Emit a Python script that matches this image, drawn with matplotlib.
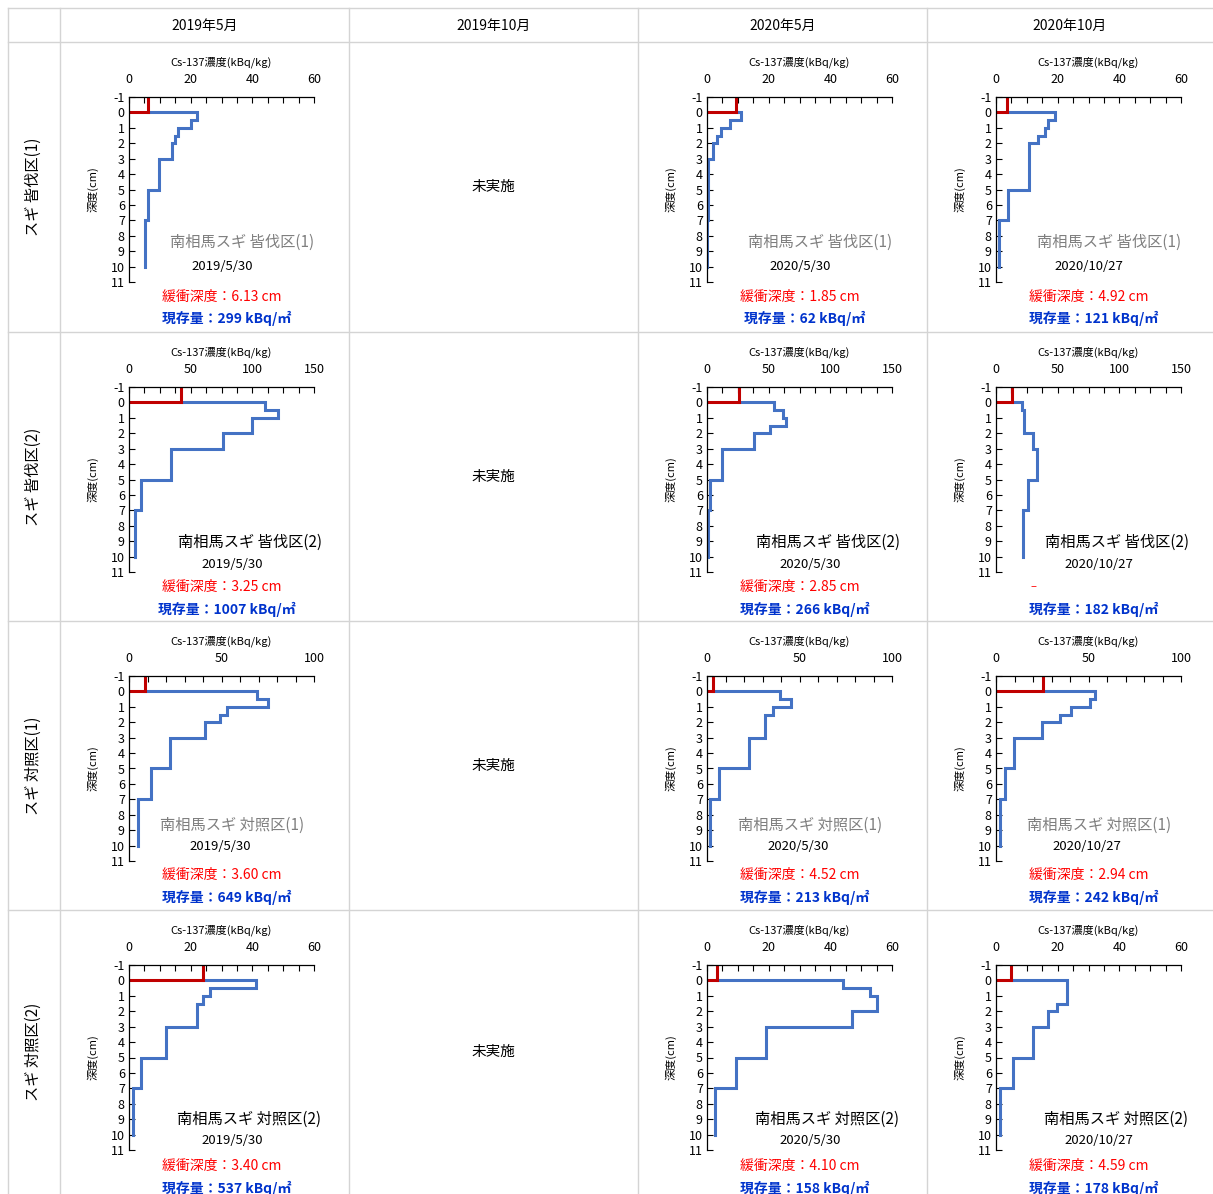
import matplotlib
matplotlib.use("Agg")
import matplotlib.pyplot as plt
from matplotlib.lines import Line2D
from matplotlib.ticker import MultipleLocator

plt.rcParams["font.family"] = ["Noto Sans CJK JP", "DejaVu Sans"]
plt.rcParams["axes.unicode_minus"] = False

# Table headings
periods = ["2019年5月", "2019年10月", "2020年5月", "2020年10月"]
plots = ["皆伐区(1)", "皆伐区(2)", "対照区(1)", "対照区(2)"]
dates = ["2019/5/30", None, "2020/5/30", "2020/10/27"]

# Depth layers (cm), bottom edges; top of first layer is 0
layer_bottoms = [0.5, 1, 1.5, 2, 3, 5, 7, 10]

# Cs-137 in litter layer (kBq/kg), one per plot
litter_2019_05 = [6.0, 42, 8.8, 24]
litter_2020_05 = [9.3, 26, 3.1, 3.2]
litter_2020_10 = [3.6, 12.7, 25.6, 4.9]

# Cs-137 per soil layer (kBq/kg)
conc_2019_05 = [
    [22, 20, 16, 15, 14, 9.7, 6.3, 5.2],
    [110, 121, 100, 100, 76, 34, 9.4, 4.9],
    [69, 75, 53, 49, 41, 22, 11.7, 4.7],
    [41.3, 26.2, 24, 21.9, 21.9, 12, 3.8, 1.2],
]
conc_2020_05 = [
    [11, 7.4, 4.6, 3.2, 2, 0.4, 0.2, 0.1],
    [54, 62, 64, 51, 38, 12, 2.4, 0.5],
    [39.5, 45.6, 35.9, 31.5, 31.5, 22.7, 6.7, 1.8],
    [44, 53, 55, 55, 47, 19, 9.5, 2.5],
]
conc_2020_10 = [
    [19, 17, 16, 13.5, 10.8, 10.8, 3.9, 1.0],
    [21, 22.7, 22.7, 22.7, 30, 33, 26, 22],
    [53.5, 51, 40.7, 34.8, 24.7, 9.7, 5.0, 2.3],
    [23, 23, 23, 19.9, 17, 11.9, 5.5, 1.4],
]

# Buffer depth (cm) and inventory (kBq/m2)
buffer_2019_05 = [6.13, 3.25, 3.60, 3.40]
buffer_2020_05 = [1.85, 2.85, 4.52, 4.10]
buffer_2020_10 = [4.92, None, 2.94, 4.59]
stock_2019_05 = [299, 1007, 649, 537]
stock_2020_05 = [62, 266, 213, 158]
stock_2020_10 = [121, 182, 242, 178]

xmax_per_plot = [60, 150, 100, 60]

W, H = 1213, 1194
fig = plt.figure(figsize=(W / 100, H / 100), dpi=100)

col_x = [8, 60, 349, 638, 927, 1213]
row_y = [8, 42, 332, 621, 910, 1194]
grid_c = "#d4d4d4"


def fx(px):
    return px / W


def fy(py):
    return 1 - py / H


# table borders
for y in row_y[:-1]:
    fig.add_artist(Line2D([fx(8), fx(1213)], [fy(y), fy(y)], color=grid_c, lw=1))
for x in col_x[:-1]:
    fig.add_artist(Line2D([fx(x), fx(x)], [fy(8), fy(1194)], color=grid_c, lw=1))

for j, p in enumerate(periods):
    cx = (col_x[j + 1] + col_x[j + 2]) / 2
    fig.text(fx(cx), fy(26), p, ha="center", va="center", fontsize=10)

for i, name in enumerate(plots):
    cy = (row_y[i + 1] + row_y[i + 2]) / 2
    fig.text(fx(33), fy(cy), "スギ " + name, rotation=90, ha="center",
             va="center", fontsize=11)
    # column 2019年10月 not sampled
    fig.text(fx((349 + 638) / 2), fy(cy), "未実施", ha="center", va="center",
             fontsize=10.5)

columns = [
    (0, litter_2019_05, conc_2019_05, buffer_2019_05, stock_2019_05),
    (2, litter_2020_05, conc_2020_05, buffer_2020_05, stock_2020_05),
    (3, litter_2020_10, conc_2020_10, buffer_2020_10, stock_2020_10),
]

# text offsets from cell corner, per row
label_off = [(182, 200), (190, 210), (172, 204), (189, 209)]
date_off = [(162, 224), (172, 232), (160, 225), (172, 231)]
buf_dy = [255, 255, 254, 256]
stock_dy = [276, 277, 276, 278]

for j, litter, conc, buf, stock in columns:
    cell_x = col_x[j + 1]
    for i in range(4):
        cell_y = row_y[i + 1]
        ax_l = cell_x + 69
        ax_t = cell_y + 55
        ax = fig.add_axes([fx(ax_l), fy(ax_t + 185), 185 / W, 185 / H])

        xs = [litter[i]]
        ys = [0]
        top = 0
        for v, b in zip(conc[i], layer_bottoms):
            xs += [v, v]
            ys += [top, b]
            top = b
        ax.plot(xs, ys, color="#4472C4", lw=2.2, solid_joinstyle="miter")
        ax.plot([0, litter[i], litter[i]], [0, 0, -1], color="#C00000", lw=2.2,
                solid_joinstyle="miter")

        xmax = xmax_per_plot[i]
        ax.set_xlim(0, xmax)
        ax.set_ylim(11, -1)
        ax.xaxis.tick_top()
        ax.xaxis.set_label_position("top")
        major = 20 if xmax == 60 else 50
        minor = {60: 5, 100: 10, 150: 12.5}[xmax]
        ax.xaxis.set_major_locator(MultipleLocator(major))
        ax.xaxis.set_minor_locator(MultipleLocator(minor))
        ax.yaxis.set_major_locator(MultipleLocator(1))
        ax.tick_params(axis="both", which="both", direction="in", length=4,
                       width=0.8, labelsize=9, pad=3)
        ax.tick_params(axis="x", which="minor", length=4)
        ax.tick_params(axis="x", pad=8)
        for s in ["right", "bottom"]:
            ax.spines[s].set_visible(False)
        for s in ["left", "top"]:
            ax.spines[s].set_linewidth(0.9)
        ax.set_xlabel("Cs-137濃度(kBq/kg)", fontsize=8, labelpad=5)
        ax.set_ylabel("深度(cm)", fontsize=8, labelpad=9)
        ax.patch.set_alpha(0)

        site_color = "#7f7f7f" if i in (0, 2) else "black"
        lx, ly = label_off[i]
        fig.text(fx(cell_x + lx), fy(cell_y + ly), "南相馬スギ " + plots[i],
                 ha="center", va="center", fontsize=11, color=site_color)
        dx, dy = date_off[i]
        fig.text(fx(cell_x + dx), fy(cell_y + dy), dates[j], ha="center",
                 va="center", fontsize=9.5)
        if buf[i] is None:
            fig.text(fx(cell_x + 106), fy(cell_y + buf_dy[i]), "–", ha="center",
                     va="center", fontsize=8, color="red")
        else:
            fig.text(fx(cell_x + 162), fy(cell_y + buf_dy[i]),
                     f"緩衝深度：{buf[i]:.2f} cm", ha="center", va="center",
                     fontsize=10, color="red")
        fig.text(fx(cell_x + 167), fy(cell_y + stock_dy[i]),
                 f"現存量：{stock[i]} kBq/㎡", ha="center", va="center",
                 fontsize=10, color="#0033CC", fontweight="bold")

fig.savefig("out.png", dpi=100)
